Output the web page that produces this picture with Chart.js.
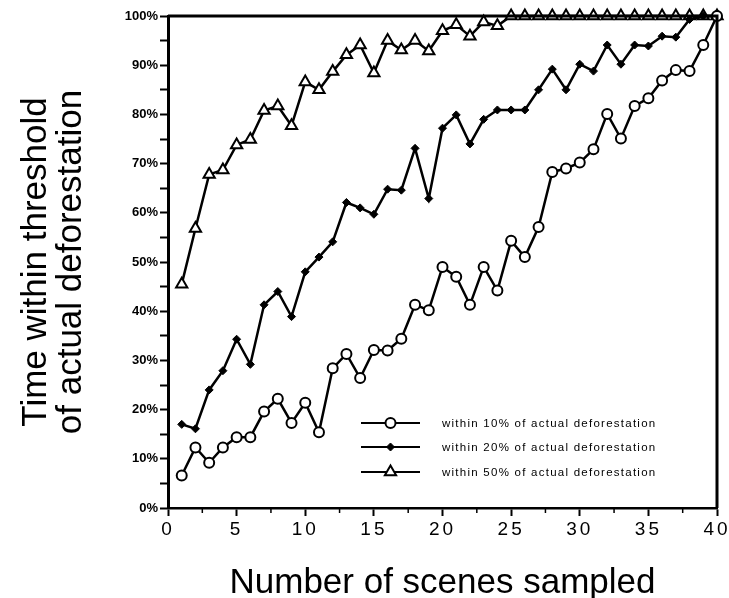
<!DOCTYPE html>
<html><head><meta charset="utf-8">
<script src="https://cdn.jsdelivr.net/npm/chart.js@4/dist/chart.umd.min.js"></script>
<style>html,body{margin:0;padding:0;background:#fff}#wrap{width:729px;height:598px}</style>
</head><body><div id="wrap"><canvas id="c"></canvas></div>
<script>
const scenes = [1,2,3,4,5,6,7,8,9,10,11,12,13,14,15,16,17,18,19,20,21,22,23,24,25,26,27,28,29,30,31,32,33,34,35,36,37,38,39,40];
const within10 = [6.6,12.3,9.2,12.3,14.4,14.4,19.6,22.2,17.3,21.4,15.4,28.4,31.3,26.4,32.1,32.0,34.4,41.3,40.2,49.0,47.0,41.3,49.0,44.2,54.3,51.0,57.1,68.3,69.0,70.2,72.9,80.1,75.1,81.7,83.3,86.9,89.0,88.8,94.1,100];
const within20 = [17.0,16.1,24.0,27.9,34.3,29.2,41.3,44.0,38.9,48.0,51.0,54.1,62.1,61.0,59.7,64.8,64.6,73.1,62.9,77.2,79.9,74.0,79.0,80.9,80.9,80.9,85.0,89.2,85.0,90.2,88.8,94.1,90.2,94.1,93.9,95.9,95.7,99.3,100,100];
const within50 = [45.5,56.8,67.8,68.7,73.8,74.9,80.8,81.7,77.7,86.6,85.0,88.7,92.1,94.1,88.4,95.0,93.1,95.0,92.9,97.0,98.2,95.9,98.8,98.0,100,100,100,100,100,100,100,100,100,100,100,100,100,100,100,100];
const seriesLabels = ['within 10% of actual deforestation','within 20% of actual deforestation','within 50% of actual deforestation'];
const xTitle = 'Number of scenes sampled';
const yTitle = ['Time within threshold','of actual deforestation'];

const FONT = "'Liberation Sans', Arial, Helvetica, sans-serif";
const toPts = vals => scenes.map((s,i)=>({x:s,y:vals[i]}));

const styles = [
  {pointStyle:'circle', radius:5, bg:'#fff', bw:2},
  {pointStyle:'rectRot', radius:4, bg:'#000', bw:1},
  {pointStyle:'triangle', radius:6.5, bg:'#fff', bw:2}
];
const allVals = [within10, within20, within50];

const datasets = allVals.map((v,i)=>({
  label: seriesLabels[i],
  data: toPts(v),
  borderColor:'#000', borderWidth:2.5,
  pointStyle: styles[i].pointStyle,
  pointRadius: styles[i].radius,
  pointBackgroundColor: styles[i].bg,
  pointBorderColor:'#000',
  pointBorderWidth: styles[i].bw,
  tension:0, fill:false, clip:false
}));

const spacingPlugin = {
  id:'spacing',
  beforeDraw(chart){
    const s = chart.scales.x;
    if (s && !s._patched) {
      const orig = s.drawLabels;
      s.drawLabels = function(area){ const c=this.ctx; c.save(); c.letterSpacing='3px'; orig.call(this, area); c.restore(); };
      s._patched = true;
    }
  }
};

const framePlugin = {
  id:'frame',
  afterDraw(chart){
    const {ctx, chartArea:a, scales} = chart;
    ctx.save();
    ctx.strokeStyle='#000';
    ctx.lineWidth=3;
    ctx.beginPath();
    ctx.moveTo(a.left, a.top); ctx.lineTo(a.right, a.top); ctx.lineTo(a.right, a.bottom);
    ctx.stroke();
    ctx.lineWidth=1.5;
    for (let v=2.5; v<40; v+=5){
      const px = scales.x.getPixelForValue(v);
      ctx.beginPath(); ctx.moveTo(px, a.bottom); ctx.lineTo(px, a.bottom+5); ctx.stroke();
    }
    ctx.restore();
  }
};

function drawMarker(ctx, style, x, y){
  ctx.save();
  ctx.fillStyle = style.bg; ctx.strokeStyle='#000'; ctx.lineWidth = style.bw;
  ctx.beginPath();
  const r = style.radius;
  if (style.pointStyle==='circle'){ ctx.arc(x,y,r,0,Math.PI*2); }
  else if (style.pointStyle==='rectRot'){ ctx.moveTo(x,y-r); ctx.lineTo(x+r,y); ctx.lineTo(x,y+r); ctx.lineTo(x-r,y); ctx.closePath(); }
  else { const w=r*0.866; ctx.moveTo(x,y-r); ctx.lineTo(x+w,y+r*0.5); ctx.lineTo(x-w,y+r*0.5); ctx.closePath(); }
  ctx.fill(); ctx.stroke();
  ctx.restore();
}

const legendPlugin = {
  id:'inlineLegend',
  afterDraw(chart){
    const {ctx, chartArea:a} = chart;
    const x0 = a.left + 193, x1 = a.left + 252, tx = a.left + 274;
    const ys = [a.top + 407, a.top + 431, a.top + 456];
    ctx.save();
    ctx.font = '11.5px ' + FONT;
    ctx.letterSpacing = '1.25px';
    ctx.textBaseline = 'middle';
    ctx.fillStyle = '#000';
    seriesLabels.forEach((lab,i)=>{
      const y = ys[i];
      ctx.strokeStyle='#000'; ctx.lineWidth=2;
      ctx.beginPath(); ctx.moveTo(x0,y); ctx.lineTo(x1,y); ctx.stroke();
      drawMarker(ctx, styles[i], (x0+x1)/2, y);
      ctx.fillText(lab, tx, y+1);
    });
    ctx.restore();
  }
};

new Chart(document.getElementById('c'), {
  type:'line',
  data:{datasets},
  options:{
    responsive:true, maintainAspectRatio:false, animation:false,
    devicePixelRatio:1,
    layout:{padding:{top:16,right:0,left:0,bottom:0}},
    plugins:{legend:{display:false}, tooltip:{enabled:false}},
    scales:{
      x:{
        type:'linear', min:0, max:40,
        ticks:{stepSize:5, color:'#000', font:{family:FONT, size:19}, padding:2, maxRotation:0},
        grid:{drawOnChartArea:false, drawTicks:true, tickLength:8, tickWidth:2, tickColor:'#000'},
        border:{display:true, color:'#000', width:2.5},
        title:{display:true, text:xTitle, color:'#000', font:{family:FONT, size:35, lineHeight:0.85}, padding:{top:0,bottom:0}},
        afterFit(s){ s.height = 90; s.paddingRight = 12; s.paddingLeft = 0; }
      },
      y:{
        type:'linear', min:0, max:100,
        ticks:{stepSize:5, color:'#000', font:{family:FONT, size:13, weight:'bold'}, padding:2,
          callback:v => (v % 10 === 0) ? v + '%' : ''},
        grid:{drawOnChartArea:false, drawTicks:true, tickLength:8, tickWidth:2, tickColor:'#000'},
        border:{display:true, color:'#000', width:3},
        title:{display:true, text:yTitle, color:'#000', font:{family:FONT, size:35, lineHeight:1.0}, padding:{top:19,bottom:0}},
        afterFit(s){ s.width = 168; s.paddingTop = 0; s.paddingBottom = 0; }
      }
    }
  },
  plugins:[spacingPlugin, framePlugin, legendPlugin]
});
</script></body></html>
